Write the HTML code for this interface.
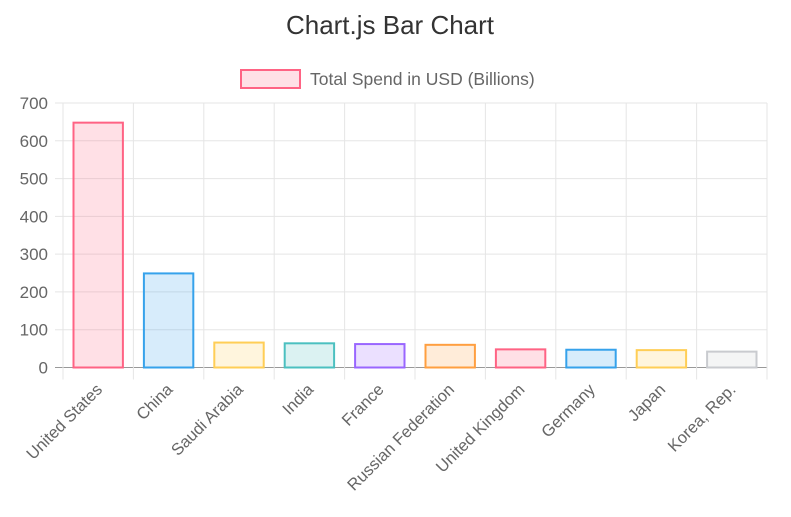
<!DOCTYPE html>
<html><head><meta charset="utf-8"><style>
html,body{margin:0;padding:0;background:#fff;width:791px;height:517px;overflow:hidden}
text{font-family:"Liberation Sans",Arial,sans-serif}
</style></head><body>
<svg id="c" width="791" height="517">
<text x="390" y="34" text-anchor="middle" font-size="26" fill="#333">Chart.js Bar Chart</text>
<g>
<rect x="241" y="70" width="59" height="18" fill="rgba(255,99,132,0.2)" stroke="rgb(255,99,132)" stroke-width="2"/>
<text x="310" y="85" font-size="17.5" fill="#666">Total Spend in USD (Billions)</text>
</g>
<g id="grid"></g><g id="bars"></g><g id="labels"></g>
</svg>
<script>
const categories=["United States","China","Saudi Arabia","India","France","Russian Federation","United Kingdom","Germany","Japan","Korea, Rep."];
const values=[648,249,66,64,62,60,48,47,46,42];
const yTicks=[0,100,200,300,400,500,600,700];
const colors=[[255,99,132],[54,162,235],[255,206,86],[75,192,192],[153,102,255],[255,159,64],[255,99,132],[54,162,235],[255,206,86],[201,203,207]];
const NS="http://www.w3.org/2000/svg";
const X0=63,X1=767,Y0=367.5,Y1=103,YMAX=700;
const y=v=>Y0-(v/YMAX)*(Y0-Y1);
const bw=(X1-X0)/categories.length;
const x=i=>X0+i*bw;
function mk(t,a,p){const e=document.createElementNS(NS,t);for(const k in a)e.setAttribute(k,a[k]);p.appendChild(e);return e;}
const grid=document.getElementById('grid'),bars=document.getElementById('bars'),labels=document.getElementById('labels');
yTicks.forEach(t=>{
 const l=mk('line',{x1:X0-8,x2:X1,y1:y(t),y2:y(t),stroke:t===0?'#999':'#e5e5e5','stroke-width':1},grid);
 
 
 const tx=mk('text',{x:X0-15,y:y(t)+6,'text-anchor':'end','font-size':17,fill:'#666'},labels);
 tx.textContent=t;
 
 
});
for(let i=0;i<=categories.length;i++){
 const l=mk('line',{x1:x(i),x2:x(i),y1:Y1,y2:Y0+12,stroke:'#e5e5e5','stroke-width':1},grid);
 
 
}
categories.forEach((c,i)=>{
 const col=colors[i];
 const b=mk('rect',{x:x(i)+10.5,y:y(values[i]),width:bw-21,height:Y0-y(values[i]),fill:`rgba(${col},0.2)`,stroke:`rgb(${col})`,'stroke-width':2},bars);
 
 
 const cx=x(i)+bw/2+5,cy=Y0+23;
 const t=mk('text',{x:cx,y:cy,'text-anchor':'end','font-size':16.5,fill:'#666',transform:`rotate(-45 ${cx} ${cy})`},labels);
 t.textContent=c;
 
 
});
</script>
</body></html>
